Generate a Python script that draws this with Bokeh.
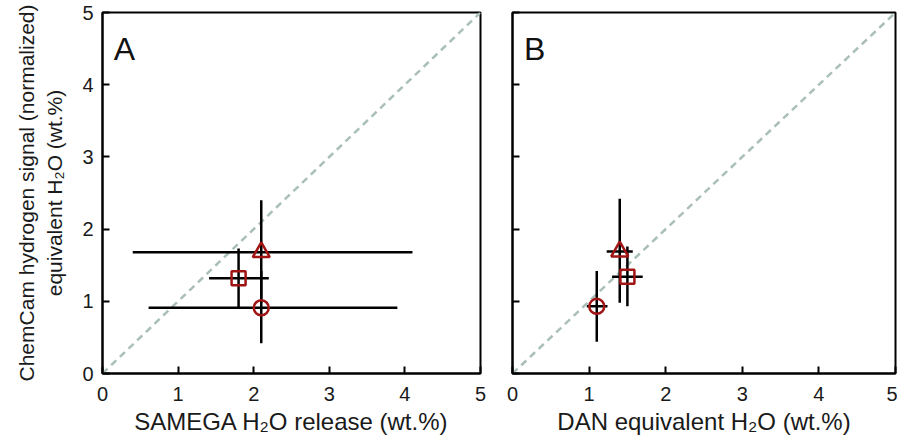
from bokeh.plotting import figure
from bokeh.layouts import row
from bokeh.models import Range1d, Label, FixedTicker, ColumnDataSource, LinearAxis
from bokeh.embed import file_html
from bokeh.resources import INLINE

# panel A: SAM-EGA release vs ChemCam hydrogen (triangle, square, circle)
a_x = [2.10, 1.80, 2.10]
a_y = [1.68, 1.32, 0.91]
a_xlo = [0.40, 1.41, 0.61]
a_xhi = [4.10, 2.20, 3.90]
a_ylo = [0.98, 0.91, 0.42]
a_yhi = [2.40, 1.73, 1.42]

# panel B: DAN vs ChemCam hydrogen
b_x = [1.40, 1.50, 1.10]
b_y = [1.69, 1.34, 0.93]
b_xlo = [1.23, 1.30, 0.97]
b_xhi = [1.57, 1.70, 1.24]
b_ylo = [0.98, 0.93, 0.44]
b_yhi = [2.42, 1.76, 1.42]

markers = ["triangle", "square", "circle"]
one_to_one = [0, 5]
ticks = [0, 1, 2, 3, 4, 5]
y_title = "ChemCam hydrogen signal (normalized)\nequivalent H\u2082O (wt.%)"

FONT = "Liberation Sans"
RED = "#a01414"
INK = "#1a1a1a"
MARKER_SIZE = {"triangle": 17, "square": 14, "circle": 15}


def panel(x, y, xlo, xhi, ylo, yhi, xlabel, letter, width, left, right, top, show_ylabels):
    p = figure(width=width, height=438, x_range=Range1d(0, 5), y_range=Range1d(0, 5),
               output_backend="svg", toolbar_location=None,
               min_border_left=left, min_border_right=right,
               min_border_top=top, min_border_bottom=65)
    p.xgrid.visible = False
    p.ygrid.visible = False
    p.outline_line_color = "black"
    p.outline_line_width = 2
    for ax in (p.xaxis, p.yaxis):
        ax.ticker = FixedTicker(ticks=ticks)
        ax.major_tick_in = 7
        ax.major_tick_out = 0
        ax.minor_tick_line_color = None
        ax.axis_line_width = 2
        ax.major_tick_line_width = 2
        ax.major_label_text_font = FONT
        ax.major_label_text_font_size = "20px"
        ax.major_label_text_color = INK
        ax.axis_label_text_font = FONT
        ax.axis_label_text_font_style = "normal"
        ax.axis_label_text_color = INK
    p.xaxis.major_label_standoff = 13
    p.xaxis.axis_label = xlabel
    p.xaxis.axis_label_text_font_size = "24px"
    p.xaxis.axis_label_standoff = 4
    if show_ylabels:
        p.yaxis.major_label_standoff = 9
        # title-only axis outside the tick labels
        title_axis = LinearAxis(ticker=FixedTicker(ticks=[]),
                                axis_line_color=None, major_tick_line_color=None,
                                minor_tick_line_color=None, axis_label=y_title,
                                axis_label_standoff=14, axis_label_text_font=FONT,
                                axis_label_text_font_size="21px",
                                axis_label_text_font_style="normal",
                                axis_label_text_color=INK)
        p.add_layout(title_axis, "left")
    else:
        p.yaxis.major_label_overrides = {t: "" for t in ticks}
        p.yaxis.major_label_standoff = 0

    p.line(one_to_one, one_to_one, line_color="#a9bfb7", line_width=2.5, line_dash="7 5")

    src = ColumnDataSource(dict(x=x, y=y, xlo=xlo, xhi=xhi, ylo=ylo, yhi=yhi, m=markers,
                                s=[MARKER_SIZE[m] for m in markers]))
    p.segment(x0="xlo", y0="y", x1="xhi", y1="y", source=src, line_color="black", line_width=2.5)
    p.segment(x0="x", y0="ylo", x1="x", y1="yhi", source=src, line_color="black", line_width=2.5)
    p.scatter("x", "y", marker="m", size="s", source=src, fill_color=None,
              line_color=RED, line_width=2.5)

    p.add_layout(Label(x=0.15, y=4.5, text=letter, text_font=FONT, text_font_size="32px",
                       text_color="#111111", text_baseline="alphabetic"))
    return p


pa = panel(a_x, a_y, a_xlo, a_xhi, a_ylo, a_yhi, "SAMEGA H\u2082O release (wt.%)", "A",
           497, 102, 17, 12, True)
pb = panel(b_x, b_y, b_xlo, b_xhi, b_ylo, b_yhi, "DAN equivalent H\u2082O (wt.%)", "B",
           400, 15, 2, 10, False)

layout = row(pa, pb)
open("out.html", "w").write(file_html(layout, INLINE))
